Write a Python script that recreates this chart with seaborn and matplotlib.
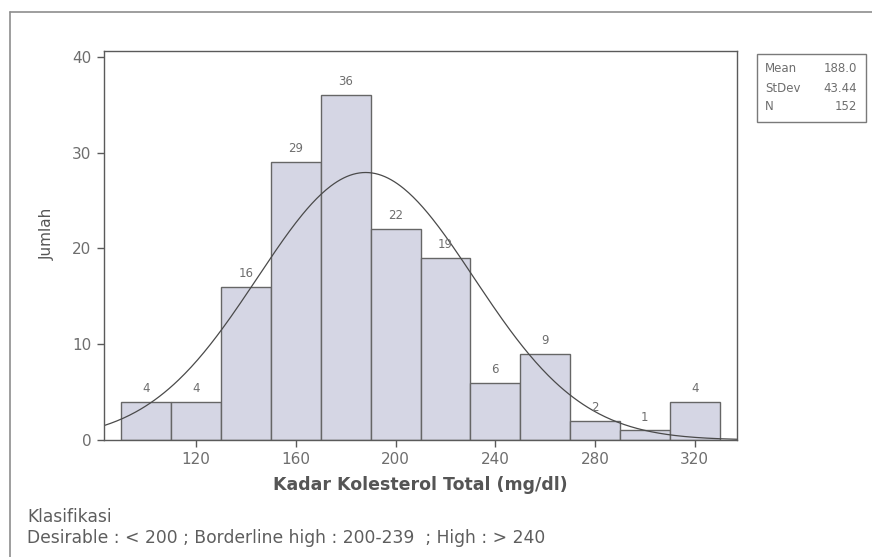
import numpy as np
import pandas as pd
import matplotlib
matplotlib.use("Agg")
import matplotlib.pyplot as plt
import seaborn as sns
from matplotlib.lines import Line2D
from matplotlib.patches import Rectangle

# Histogram of total cholesterol (bin centres and counts)
bin_centers = [100, 120, 140, 160, 180, 200, 220, 240, 260, 280, 300, 320]
counts = [4, 4, 16, 29, 36, 22, 19, 6, 9, 2, 1, 4]
bin_width = 20
x_ticks = [120, 160, 200, 240, 280, 320]
y_ticks = [0, 10, 20, 30, 40]

mean_val = 188.0
sd_val = 43.44
n_val = 152

sns.set_theme(style="white")
plt.rcParams["font.family"] = ["DejaVu Sans"]

grey_text = "#6e6e6e"
axis_col = "#5a5a5a"
bar_col = "#d5d6e4"

W, H = 872, 557
fig = plt.figure(figsize=(W / 100, H / 100), dpi=100)
fig.patch.set_facecolor("white")

def fx(px):
    return px / W

def fy(py):
    return 1 - py / H

ax = fig.add_axes([fx(104), fy(440), fx(737) - fx(104), fy(51) - fy(440)])

hist_df = pd.DataFrame({"kolesterol": bin_centers, "jumlah": counts})
lo = bin_centers[0] - bin_width / 2
hi = bin_centers[-1] + bin_width / 2
sns.histplot(data=hist_df, x="kolesterol", weights="jumlah",
             binwidth=bin_width, binrange=(lo, hi), ax=ax,
             color=bar_col, edgecolor="#666666", linewidth=1.0, alpha=1.0)

# fitted normal curve scaled to counts
xs = np.linspace(83, 337, 400)
ys = n_val * bin_width * np.exp(-0.5 * ((xs - mean_val) / sd_val) ** 2) / (sd_val * np.sqrt(2 * np.pi))
ax.plot(xs, ys, color="#4a4a4a", linewidth=0.9)

for c, v in zip(bin_centers, counts):
    ax.text(c, v + 1.4, str(v), ha="center", va="center", fontsize=8.5, color=grey_text)

ax.set_xlim(83, 337)
ax.set_ylim(0, 40.6)
ax.set_xticks(x_ticks)
ax.set_yticks(y_ticks)
ax.tick_params(axis="both", direction="out", length=5, width=1, color=axis_col,
               labelcolor=grey_text, labelsize=11, pad=4,
               bottom=True, left=True)
for s in ax.spines.values():
    s.set_visible(True)
    s.set_color(axis_col)
    s.set_linewidth(1.0)

ax.set_xlabel("Kadar Kolesterol Total (mg/dl)", fontsize=12.5, fontweight="bold",
              color="#555555", labelpad=6)
ax.set_ylabel("Jumlah", fontsize=11, color="#555555")
ax.yaxis.set_label_coords(-0.078, 0.53)

# summary statistics box
fig.patches.append(Rectangle((fx(757), fy(122)), fx(866) - fx(757), fy(54) - fy(122),
                             transform=fig.transFigure, fill=False,
                             edgecolor="#7a7a7a", linewidth=1.0))
rows = [("Mean", f"{mean_val:.1f}"), ("StDev", f"{sd_val:.2f}"), ("N", f"{n_val}")]
for i, (lab, val) in enumerate(rows):
    yy = fy(69 + i * 19)
    fig.text(fx(765), yy, lab, fontsize=8.5, color=grey_text, va="center", ha="left")
    fig.text(fx(857), yy, val, fontsize=8.5, color=grey_text, va="center", ha="right")

# outer frame lines
fig.lines.append(Line2D([fx(10), fx(872)], [fy(12), fy(12)], transform=fig.transFigure,
                        color="#8e8e8e", linewidth=1.2))
fig.lines.append(Line2D([fx(10), fx(10)], [fy(12), fy(557)], transform=fig.transFigure,
                        color="#8e8e8e", linewidth=1.2))

fig.text(fx(27), fy(517), "Klasifikasi", fontsize=12.3, color="#5e5e5e", va="center", ha="left")
fig.text(fx(27), fy(538), "Desirable : < 200 ; Borderline high : 200-239  ; High : > 240",
         fontsize=12.3, color="#5e5e5e", va="center", ha="left")

fig.savefig("out.png", dpi=100)
